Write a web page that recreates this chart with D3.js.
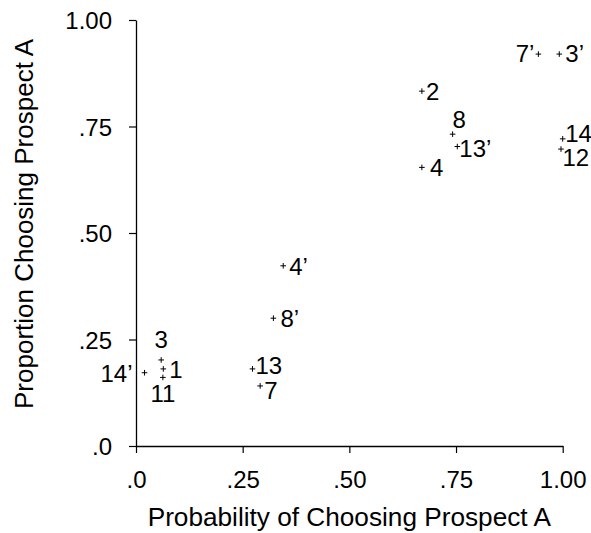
<!DOCTYPE html>
<html>
<head>
<meta charset="utf-8">
<script src="https://cdn.jsdelivr.net/npm/d3@7"></script>
<style>
  html, body { margin: 0; padding: 0; background: #fff; }
  svg { display: block; }
  text { font-family: "Liberation Sans", Arial, sans-serif; fill: #000; }
</style>
</head>
<body>
<svg id="chart" width="591" height="533"></svg>
<script>
// ---- Data ----
const problemLabels = ["1", "2", "3", "4", "7", "8", "11", "12", "13", "14", "3’", "4’", "7’", "8’", "13’", "14’"];
const probChoosingA = [0.064, 0.670, 0.059, 0.670, 0.291, 0.742, 0.063, 0.996, 0.273, 1.000, 0.992, 0.345, 0.943, 0.322, 0.753, 0.020];
const propChoosingA = [0.181, 0.833, 0.202, 0.654, 0.141, 0.732, 0.161, 0.697, 0.181, 0.721, 0.920, 0.423, 0.920, 0.300, 0.703, 0.172];
const xTickValues = [0, 0.25, 0.5, 0.75, 1.0];
const xTickLabels = [".0", ".25", ".50", ".75", "1.00"];
const yTickValues = [0, 0.25, 0.5, 0.75, 1.0];
const yTickLabels = [".0", ".25", ".50", ".75", "1.00"];
const xTitle = "Probability of Choosing Prospect A";
const yTitle = "Proportion Choosing Prospect A";

// ---- Layout (label placement relative to marker: dx, dy(baseline), anchor) ----
const labelLayout = {
  "1":   [6, 9, "start"],
  "2":   [4, 9, "start"],
  "3":   [0, -12, "middle"],
  "4":   [8, 9, "start"],
  "7":   [4, 13, "start"],
  "8":   [0, -6, "start"],
  "11":  [0, 25, "middle"],
  "12":  [1.5, 17, "start"],
  "13":  [3, 5, "start"],
  "14":  [2.5, 3, "start"],
  "3’":  [6, 8, "start"],
  "4’":  [6, 9, "start"],
  "7’":  [-4, 8, "end"],
  "8’":  [7, 9, "start"],
  "13’": [2, 10, "start"],
  "14’": [-12, 9, "end"]
};

const svg = d3.select("#chart");
const x = d3.scaleLinear().domain([0, 1]).range([136, 562.7]);
const y = d3.scaleLinear().domain([0, 1]).range([446, 20]);

// Axes
const xAxis = d3.axisBottom(x).tickValues(xTickValues)
  .tickFormat((d, i) => xTickLabels[i]).tickSizeInner(7).tickSizeOuter(0).tickPadding(10);
const yAxis = d3.axisLeft(y).tickValues(yTickValues)
  .tickFormat((d, i) => yTickLabels[i]).tickSizeInner(7).tickSizeOuter(0).tickPadding(17);

const gx = svg.append("g").attr("transform", "translate(0,446)").call(xAxis);
const gy = svg.append("g").attr("transform", "translate(136,0)").call(yAxis);
[gx, gy].forEach(g => {
  g.select(".domain").attr("stroke", "#000").attr("stroke-width", 1.3);
  g.selectAll(".tick line").attr("stroke", "#000").attr("stroke-width", 1.2);
  g.selectAll(".tick text").attr("font-size", 24).attr("font-family", "Liberation Sans, Arial, sans-serif").attr("fill", "#000");
});
gx.selectAll(".tick text").attr("dy", "0.71em").attr("y", 25);
gy.selectAll(".tick text").attr("dy", "0.36em");

// Axis titles
svg.append("text")
  .attr("x", 349.3).attr("y", 526)
  .attr("text-anchor", "middle").attr("font-size", 26.2)
  .text(xTitle);
svg.append("text")
  .attr("transform", "translate(33,224) rotate(-90)")
  .attr("text-anchor", "middle").attr("font-size", 26)
  .text(yTitle);

// Points
const pts = problemLabels.map((lab, i) => ({ lab, px: probChoosingA[i], py: propChoosingA[i] }));
const g = svg.append("g");
const s = 2.8;
g.selectAll("path.mark").data(pts).enter().append("path")
  .attr("class", "mark")
  .attr("d", d => {
    const cx = x(d.px), cy = y(d.py);
    return `M${cx - s},${cy}H${cx + s}M${cx},${cy - s}V${cy + s}`;
  })
  .attr("stroke", "#000").attr("stroke-width", 1).attr("fill", "none");

g.selectAll("text.lab").data(pts).enter().append("text")
  .attr("class", "lab")
  .attr("x", d => x(d.px) + labelLayout[d.lab][0])
  .attr("y", d => y(d.py) + labelLayout[d.lab][1])
  .attr("text-anchor", d => labelLayout[d.lab][2])
  .attr("font-size", 24)
  .text(d => d.lab);
</script>
</body>
</html>
